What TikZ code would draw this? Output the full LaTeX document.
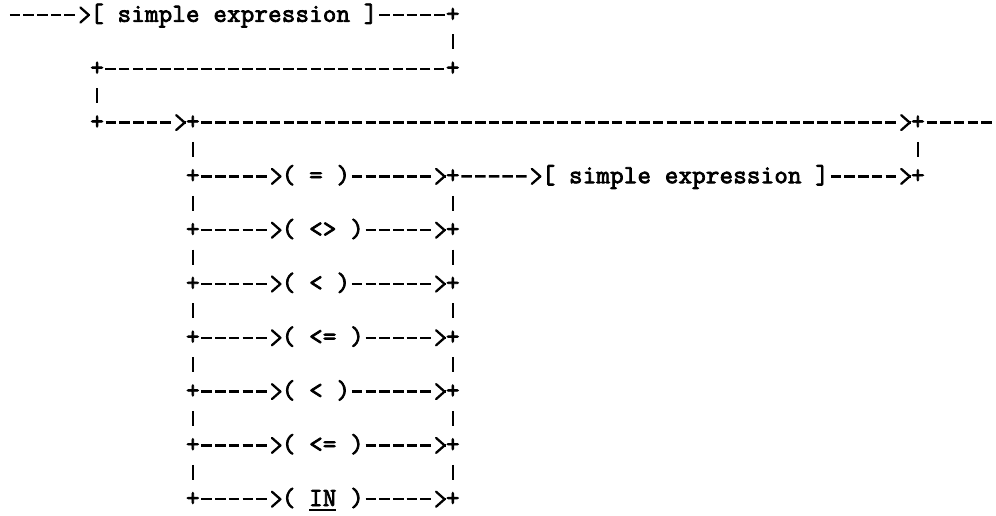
\documentclass[tikz,border=0pt]{standalone}
\usepackage{fontspec}
\newfontfamily\mono{Latin Modern Mono}[FakeBold=3]
\usetikzlibrary{arrows.meta}
\newcommand\cellw{13.6815pt}
\makeatletter
\newcommand\mt[1]{\@tfor\@cc:=#1\do{\makebox[\cellw][c]{\@cc}}}
\makeatother
\newcommand\uln[1]{\setbox0\hbox{#1}\rlap{\copy0}\raisebox{-5pt}{\rule{\wd0}{2.4pt}}}
\newcommand\arrconn[2]{\draw[hl] (#1) -- ([xshift=-13.68pt]#2) ([xshift=-0.1pt]#2) edge[tipe] (#2);}
\begin{document}
\begin{tikzpicture}[x=1pt,y=1pt,
  txt/.style={font={\mono\fontsize{26.06}{30}\selectfont}, inner sep=0pt, text height=18.6pt, text depth=5pt},
  jn/.style={txt},
  hl/.style={line width=2.4pt, dash pattern=on 10.5pt off 3.18pt, dash phase=12.08pt},
  tipe/.style={solid, -{Straight Barb[length=8.5pt,width=15pt,line width=2.3pt,round]}},
  vl/.style={line width=2.4pt, shorten <=19.4pt, shorten >=19.4pt}]
\fill[white] (0,0) rectangle (996,-516);
\useasboundingbox (0,0) rectangle (996,-516);
% top part
\coordinate (s) at (8.16,-15);
\node[txt] (se1) at (233.88,-15) {\mt{[~simple~expression~]}};
\node[jn] (j1) at (452.76,-15) {\mt{+}};
\node[jn] (j2) at (452.76,-68.8) {\mt{+}};
\node[jn] (j3) at (97.08,-68.8) {\mt{+}};
\node[jn] (j4) at (97.08,-122.6) {\mt{+}};
\node[jn] (j5) at (192.84,-122.6) {\mt{+}};
\node[jn] (j6) at (917.88,-122.6) {\mt{+}};
\coordinate (e) at (1006.8,-122.6);
\arrconn{s}{se1.west}
\draw[hl] (se1.east) -- (j1.west);
\draw[vl] (j1.center) -- (j2.center);
\draw[hl] (j2.west) -- (j3.east);
\draw[vl] (j3.center) -- (j4.center);
\arrconn{j4.east}{j5.west}
\arrconn{j5.east}{j6.west}
\arrconn{j6.east}{e}
% operator rows
\foreach \r/\op/\x in {6/{\mt{(~=~)}}/315.96, 8/{\mt{(~<>~)}}/322.8, 10/{\mt{(~<~)}}/315.96, 12/{\mt{(~<=~)}}/322.8, 14/{\mt{(~<~)}}/315.96, 16/{\mt{(~<=~)}}/322.8, 18/{\mt{(~}\uln{\mt{IN}}\mt{~)}}/322.8} {
  \pgfmathsetmacro\yy{-(15+26.9*\r)}
  \node[jn] (L\r) at (192.84,\yy) {\mt{+}};
  \node[txt] (op\r) at (\x,\yy) {\op};
  \node[jn] (R\r) at (452.76,\yy) {\mt{+}};
  \arrconn{L\r.east}{op\r.west}
  \arrconn{op\r.east}{R\r.west}
}
\draw[vl] (j5.center) -- (L6.center);
\foreach \a/\b in {6/8, 8/10, 10/12, 12/14, 14/16, 16/18} {
  \draw[vl] (L\a.center) -- (L\b.center);
  \draw[vl] (R\a.center) -- (R\b.center);
}
% second simple expression
\node[txt] (se2) at (685.32,-176.4) {\mt{[~simple~expression~]}};
\node[jn] (j7) at (917.88,-176.4) {\mt{+}};
\arrconn{R6.east}{se2.west}
\arrconn{se2.east}{j7.west}
\draw[vl] (j6.center) -- (j7.center);
\end{tikzpicture}
\end{document}
